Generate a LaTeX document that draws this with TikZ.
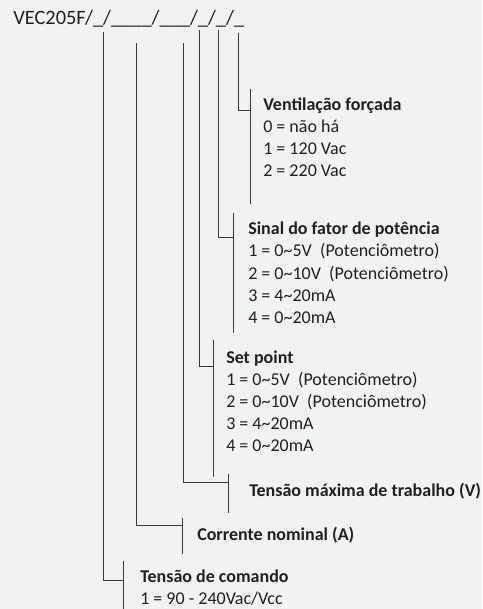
\documentclass[tikz,border=0pt]{standalone}
\usepackage{fontspec}
\setmainfont{Carlito}
\definecolor{bgcol}{HTML}{F1F2F4}
\definecolor{inkcol}{HTML}{231F20}
\definecolor{linecol}{HTML}{3A3A3A}
\newcommand{\tld}{\textasciitilde}

\begin{document}
\begin{tikzpicture}[x=0.75pt, y=-0.75pt,
    lead/.style={draw=linecol, line width=0.6pt},
    head/.style={anchor=base west, inner sep=0pt, text=inkcol,
        font=\fontsize{13.5}{16.5}\selectfont\bfseries},
    item/.style={anchor=base west, inner sep=0pt, text=inkcol,
        font=\fontsize{13.5}{16.5}\selectfont}]
    \fill[bgcol] (0,0) rectangle (482,609);
    \useasboundingbox (0,0) rectangle (482,609);

    \node[anchor=base west, inner sep=0pt, text=inkcol, font=\fontsize{15.3}{18}\selectfont]
        (code) at (13,25) {VEC205F/\_/\_\_\_\_/\_\_\_/\_/\_/\_};

    % leaders and bars
    \foreach \n/\tx/\ty/\bx/\jy/\bt/\bb in {vent/238/33/250/110/89/204,
        fp/218/30/233/237/213/333, set/199/30/213/366/340/477,
        vmax/183/43/228/482/474/513, cur/136/43/182/525/518/554,
        cmd/103/32/123/580/561/609} {
        \coordinate (tap\n) at (\tx,\ty);
        \coordinate (join\n) at (\bx,\jy);
        \coordinate (top\n) at (\bx,\bt);
        \coordinate (bot\n) at (\bx,\bb);
        \draw[lead] (tap\n) |- (join\n);
        \draw[lead] (top\n) -- (bot\n);
    }

    \node[head] (vent) at (263,111) {Ventilação forçada};
    \foreach \t [count=\i] in {0 = não há, 1 = 120 Vac, 2 = 220 Vac}
        \node[item] (vent\i) at (263,{111+22*\i}) {\t};

    \node[head] (fp) at (248,235) {Sinal do fator de potência};
    \foreach \t [count=\i] in {1 = 0\tld5V\ \ (Potenciômetro), 2 = 0\tld10V\ \ (Potenciômetro),
        3 = 4\tld20mA, 4 = 0\tld20mA}
        \node[item] (fp\i) at (248,{235+22*\i}) {\t};

    \node[head] (set) at (226,363) {Set point};
    \foreach \t [count=\i] in {1 = 0\tld5V\ \ (Potenciômetro), 2 = 0\tld10V\ \ (Potenciômetro),
        3 = 4\tld20mA, 4 = 0\tld20mA}
        \node[item] (set\i) at (226,{363+22*\i}) {\t};

    \node[head] (vmax) at (249,496) {Tensão máxima de trabalho (V)};
    \node[head] (cur) at (197,540) {Corrente nominal (A)};

    \node[head] (cmd) at (140,582) {Tensão de comando};
    \node[item] (cmd1) at (140,604) {1 = 90 - 240Vac/Vcc};
\end{tikzpicture}
\end{document}
